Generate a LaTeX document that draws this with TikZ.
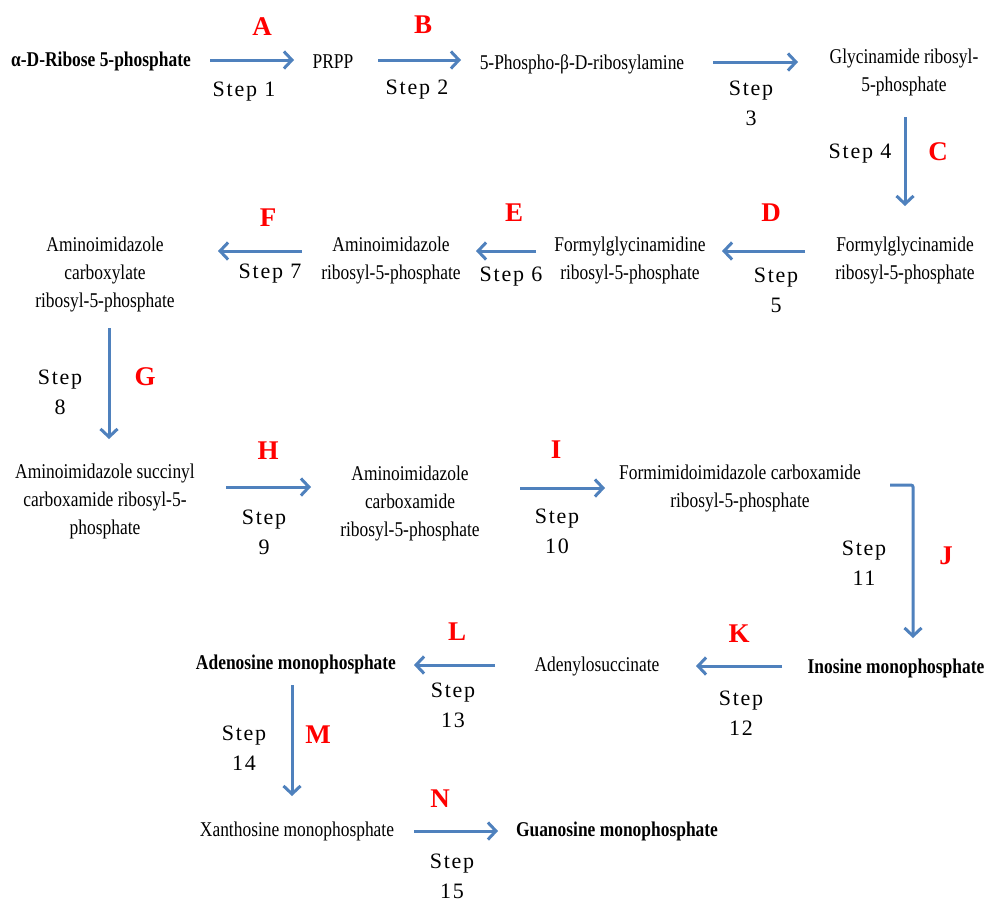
\documentclass[tikz,border=0pt]{standalone}
\usepackage{fontspec}
\setmainfont{Liberation Serif}
\newfontfamily\molf[FakeStretch=0.83]{Liberation Serif}
\newfontfamily\stepf[LetterSpace=8]{Liberation Serif}
\usetikzlibrary{arrows.meta}
\definecolor{arrblue}{RGB}{79,129,189}
\definecolor{lblred}{RGB}{255,0,0}
\begin{document}
\begin{tikzpicture}[x=1pt,y=-1pt,
  mol/.style={inner sep=0pt, align=center, font=\molf\fontsize{21}{28}\selectfont},
  molb/.style={inner sep=0pt, align=center, font=\molf\bfseries\fontsize{21}{28}\selectfont},
  stp/.style={inner sep=0pt, align=center, font=\stepf\fontsize{22}{30}\selectfont},
  ltr/.style={inner sep=0pt, text=lblred, font=\bfseries\fontsize{27}{27}\selectfont},
  arr/.style={draw=arrblue, line width=3pt, -{Straight Barb[length=8pt,width=17pt]}}]
\useasboundingbox (0,0) rectangle (987,903);
\fill[white] (0,0) rectangle (987,903);
% molecules
\node[molb] (m1) at (101,61) {α-D-Ribose 5-phosphate};
\node[mol] (m2) at (333,62) {PRPP};
\node[mol] (m3) at (582,64) {5-Phospho-β-D-ribosylamine};
\node[mol] (m4) at (904,72) {Glycinamide ribosyl-\\5-phosphate};
\node[mol] (m5) at (905,260) {Formylglycinamide\\ribosyl-5-phosphate};
\node[mol] (m6) at (630,260) {Formylglycinamidine\\ribosyl-5-phosphate};
\node[mol] (m7) at (391,260) {Aminoimidazole\\ribosyl-5-phosphate};
\node[mol] (m8) at (105,274) {Aminoimidazole\\carboxylate\\ribosyl-5-phosphate};
\node[mol] (m9) at (105,501) {Aminoimidazole succinyl\\carboxamide ribosyl-5-\\phosphate};
\node[mol] (m10) at (410,503) {Aminoimidazole\\carboxamide\\ribosyl-5-phosphate};
\node[mol] (m11) at (740,488) {Formimidoimidazole carboxamide\\ribosyl-5-phosphate};
\node[molb] (m12) at (896,668) {Inosine monophosphate};
\node[mol] (m13) at (597,666) {Adenylosuccinate};
\node[molb] (m14) at (296,664) {Adenosine monophosphate};
\node[mol] (m15) at (297,831) {Xanthosine monophosphate};
\node[molb] (m16) at (617,831) {Guanosine monophosphate};
% arrow end points
\coordinate (a1s) at (210,60); \coordinate (a1e) at (294,60);
\coordinate (a2s) at (378,60); \coordinate (a2e) at (461,60);
\coordinate (a3s) at (713,62); \coordinate (a3e) at (798,62);
\coordinate (a4s) at (905,117); \coordinate (a4e) at (905,206);
\coordinate (a5s) at (805,251); \coordinate (a5e) at (722,251);
\coordinate (a6s) at (536,251); \coordinate (a6e) at (476,251);
\coordinate (a7s) at (302,251); \coordinate (a7e) at (218,251);
\coordinate (a8s) at (109,328); \coordinate (a8e) at (109,439);
\coordinate (a9s) at (226,487); \coordinate (a9e) at (311,487);
\coordinate (a10s) at (520,488); \coordinate (a10e) at (605,488);
\coordinate (a11s) at (890,485); \coordinate (a11e) at (913,638);
\coordinate (a12s) at (782,666); \coordinate (a12e) at (696,666);
\coordinate (a13s) at (495,665); \coordinate (a13e) at (414,665);
\coordinate (a14s) at (292,685); \coordinate (a14e) at (292,796);
\coordinate (a15s) at (414,831); \coordinate (a15e) at (498,831);
\draw[arr] (a1s) -- (a1e);
\draw[arr] (a2s) -- (a2e);
\draw[arr] (a3s) -- (a3e);
\draw[arr] (a4s) -- (a4e);
\draw[arr] (a5s) -- (a5e);
\draw[arr] (a6s) -- (a6e);
\draw[arr] (a7s) -- (a7e);
\draw[arr] (a8s) -- (a8e);
\draw[arr] (a9s) -- (a9e);
\draw[arr] (a10s) -- (a10e);
\draw[arr, rounded corners=2pt] (a11s) -| (a11e);
\draw[arr] (a12s) -- (a12e);
\draw[arr] (a13s) -- (a13e);
\draw[arr] (a14s) -- (a14e);
\draw[arr] (a15s) -- (a15e);
% step labels
\node[stp] (s1) at (244,92) {Step 1};
\node[stp] (s2) at (417,90) {Step 2};
\node[stp] (s3) at (751,103) {Step\\3};
\node[stp] (s4) at (860,154) {Step 4};
\node[stp] (s5) at (776,290) {Step\\5};
\node[stp] (s6) at (511,277) {Step 6};
\node[stp] (s7) at (270,274) {Step 7};
\node[stp] (s8) at (60,392) {Step\\8};
\node[stp] (s9) at (264,532) {Step\\9};
\node[stp] (s10) at (557,531) {Step\\10};
\node[stp] (s11) at (864,563) {Step\\11};
\node[stp] (s12) at (741,713) {Step\\12};
\node[stp] (s13) at (453,705) {Step\\13};
\node[stp] (s14) at (244,748) {Step\\14};
\node[stp] (s15) at (452,876) {Step\\15};
% letters
\node[ltr] (lA) at (262,27) {A};
\node[ltr] (lB) at (423,25) {B};
\node[ltr] (lC) at (938,152) {C};
\node[ltr] (lD) at (771,213) {D};
\node[ltr] (lE) at (514,213) {E};
\node[ltr] (lF) at (268,218) {F};
\node[ltr] (lG) at (145,377) {G};
\node[ltr] (lH) at (268,451) {H};
\node[ltr] (lI) at (556,450) {I};
\node[ltr] (lJ) at (946,556) {J};
\node[ltr] (lK) at (739,634) {K};
\node[ltr] (lL) at (457,632) {L};
\node[ltr] (lM) at (318,735) {M};
\node[ltr] (lN) at (440,799) {N};
\end{tikzpicture}
\end{document}
